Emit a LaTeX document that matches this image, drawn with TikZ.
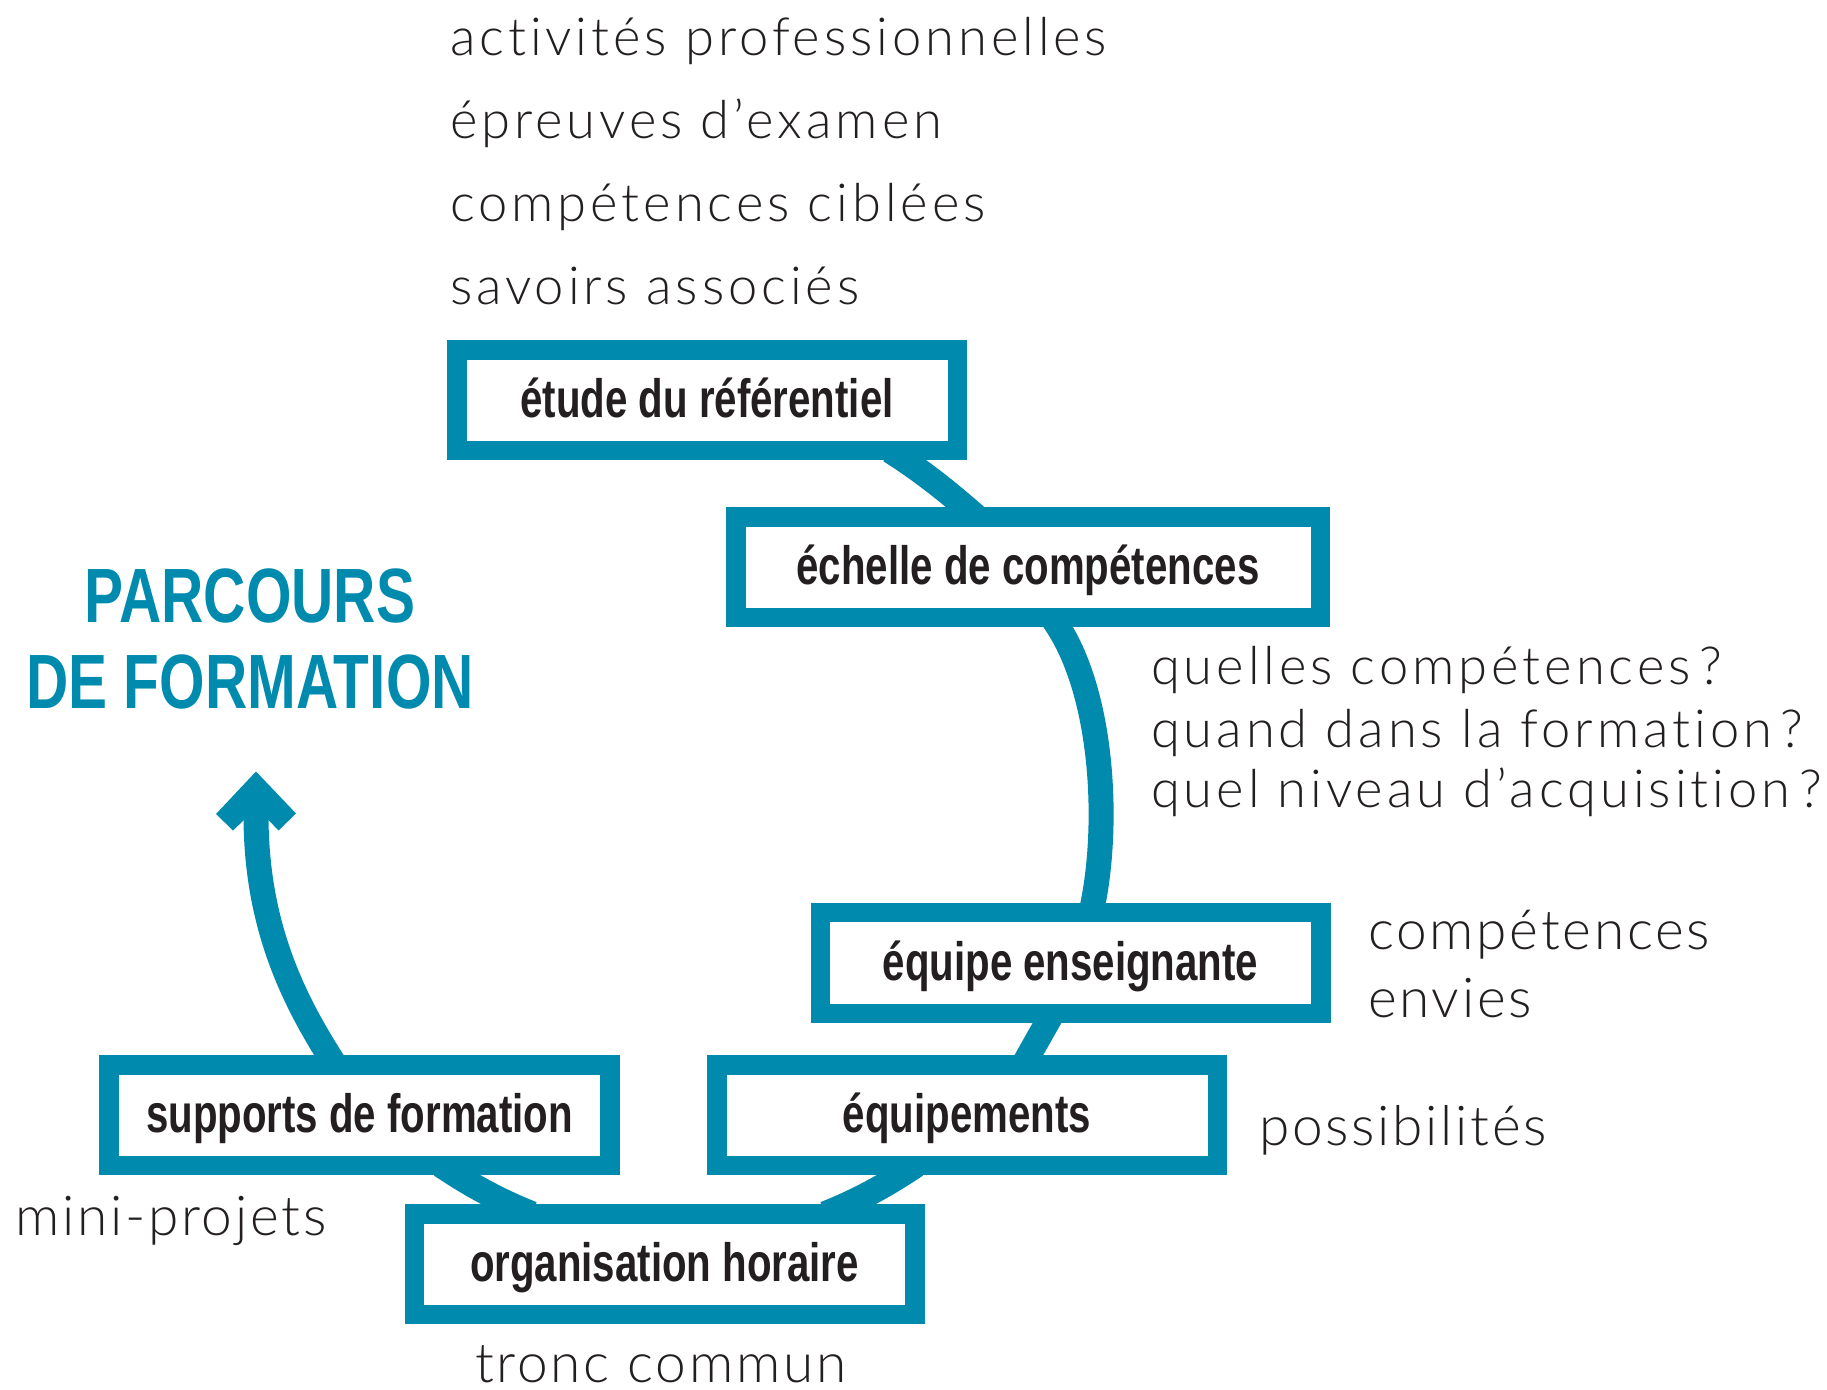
\documentclass[tikz,border=0pt]{standalone}
\usepackage{fontspec}
\usetikzlibrary{calc}
\newfontfamily\condfont[FakeStretch=0.745]{Liberation Sans}
\newfontfamily\titlefont[FakeStretch=0.76]{Liberation Sans}
\newfontfamily\lightfont[LetterSpace=7.5,Ligatures=NoCommon]{Lato Light}
\newfontfamily\lightfontb[LetterSpace=5,Ligatures=NoCommon]{Lato Light}
\definecolor{teal2}{RGB}{0,139,174}
\definecolor{ink}{RGB}{35,31,32}
\pgfdeclarelayer{background}
\pgfsetlayers{background,main}
\begin{document}
\begin{tikzpicture}[x=0.4pt,y=-0.4pt,
  box/.style={draw=teal2, line width=7.8pt, fill=white, rectangle, outer sep=0pt, inner sep=0pt,
    minimum width=200.2pt, minimum height=40.2pt, text height=15pt, text depth=1pt,
    font=\condfont\bfseries\fontsize{21.6}{24}\selectfont, text=ink},
  conn/.style={draw=teal2, line width=10pt, line cap=butt},
  lbl/.style={anchor=base west, inner sep=0pt, outer sep=0pt, font=\lightfont\fontsize{21}{24}\selectfont, text=ink},
  lblbig/.style={lbl, font=\lightfontb\fontsize{22}{25}\selectfont},
  titlestyle/.style={anchor=base, inner sep=0pt, font=\titlefont\bfseries\fontsize{30.8}{34}\selectfont, text=teal2}]
\useasboundingbox (0,0) rectangle (1827,1390);

% boxes
\node[box] (b1) at (707,400.5) {étude du référentiel};
\node[box, minimum width=233.8pt] (b2) at (1028,567.5) {échelle de compétences};
\node[box] (b3) at (1070.5,963) {équipe enseignante};
\node[box] (b4) at (967,1115) {équipements};
\node[box] (b5) at (359.5,1115) {supports de formation};
\node[box] (b6) at (664.5,1264) {organisation horaire};

% arrow tip
\coordinate (tip) at (256,771.5);
\coordinate (shaftend) at (256,815);
\fill[teal2] (tip) -- ++(40,42) -- ++(-17.5,17) -- ++(-10,-10.5) -- ++(-24.5,0) -- ++(-11,10.5) -- ++(-17,-16.5) -- cycle;

% connectors
\begin{pgfonlayer}{background}
\draw[conn] ($(b1.south)+(183,0)$) .. controls +(30,19) and +(-32,-28) .. ($(b2.north)+(-51,0)$);
\draw[conn] ($(b2.south)+(24,0)$) .. controls +(53,72) and +(19,-82) .. ($(b3.north)+(20.5,0)$);
\draw[conn] ($(b3.south)+(-18,0)$) -- ($(b4.north)+(56.4,0)$);
\draw[conn] ($(b4.south)+(-51,0)$) .. controls +(-18,12) and +(42,-16.5) .. ($(b6.north)+(160.5,0)$);
\draw[conn] ($(b5.south)+(81.5,0)$) .. controls +(18,12) and +(-42,-16.5) .. ($(b6.north)+(-132.5,0)$);
\draw[conn] ($(b5.north)+(-24.5,0)$) .. controls +(-42,-65) and +(0,110) .. (shaftend);
\end{pgfonlayer}

% title
\node[titlestyle] (t1) at (250,623) {PARCOURS};
\node[titlestyle] (t2) at (250,709) {DE FORMATION};

% labels
\node[lbl] (l1) at (450,56) {activités professionnelles};
\node[lbl] (l2) at (450,139) {épreuves d’examen};
\node[lbl] (l3) at (450,222) {compétences ciblées};
\node[lbl] (l4) at (450,305) {savoirs associés};
\node[lbl] (q1) at (1151,685) {quelles compétences\,?};
\node[lbl] (q2) at (1151,748) {quand dans la formation\,?};
\node[lbl] (q3) at (1151,808) {quel niveau d’acquisition\,?};
\node[lblbig] (e1) at (1368,950) {compétences};
\node[lblbig] (e2) at (1368,1017) {envies};
\node[lblbig] (p1) at (1259,1145) {possibilités};
\node[lblbig] (m1) at (15,1235) {mini-projets};
\node[lblbig] (tc) at (475,1382) {tronc commun};
\end{tikzpicture}
\end{document}
